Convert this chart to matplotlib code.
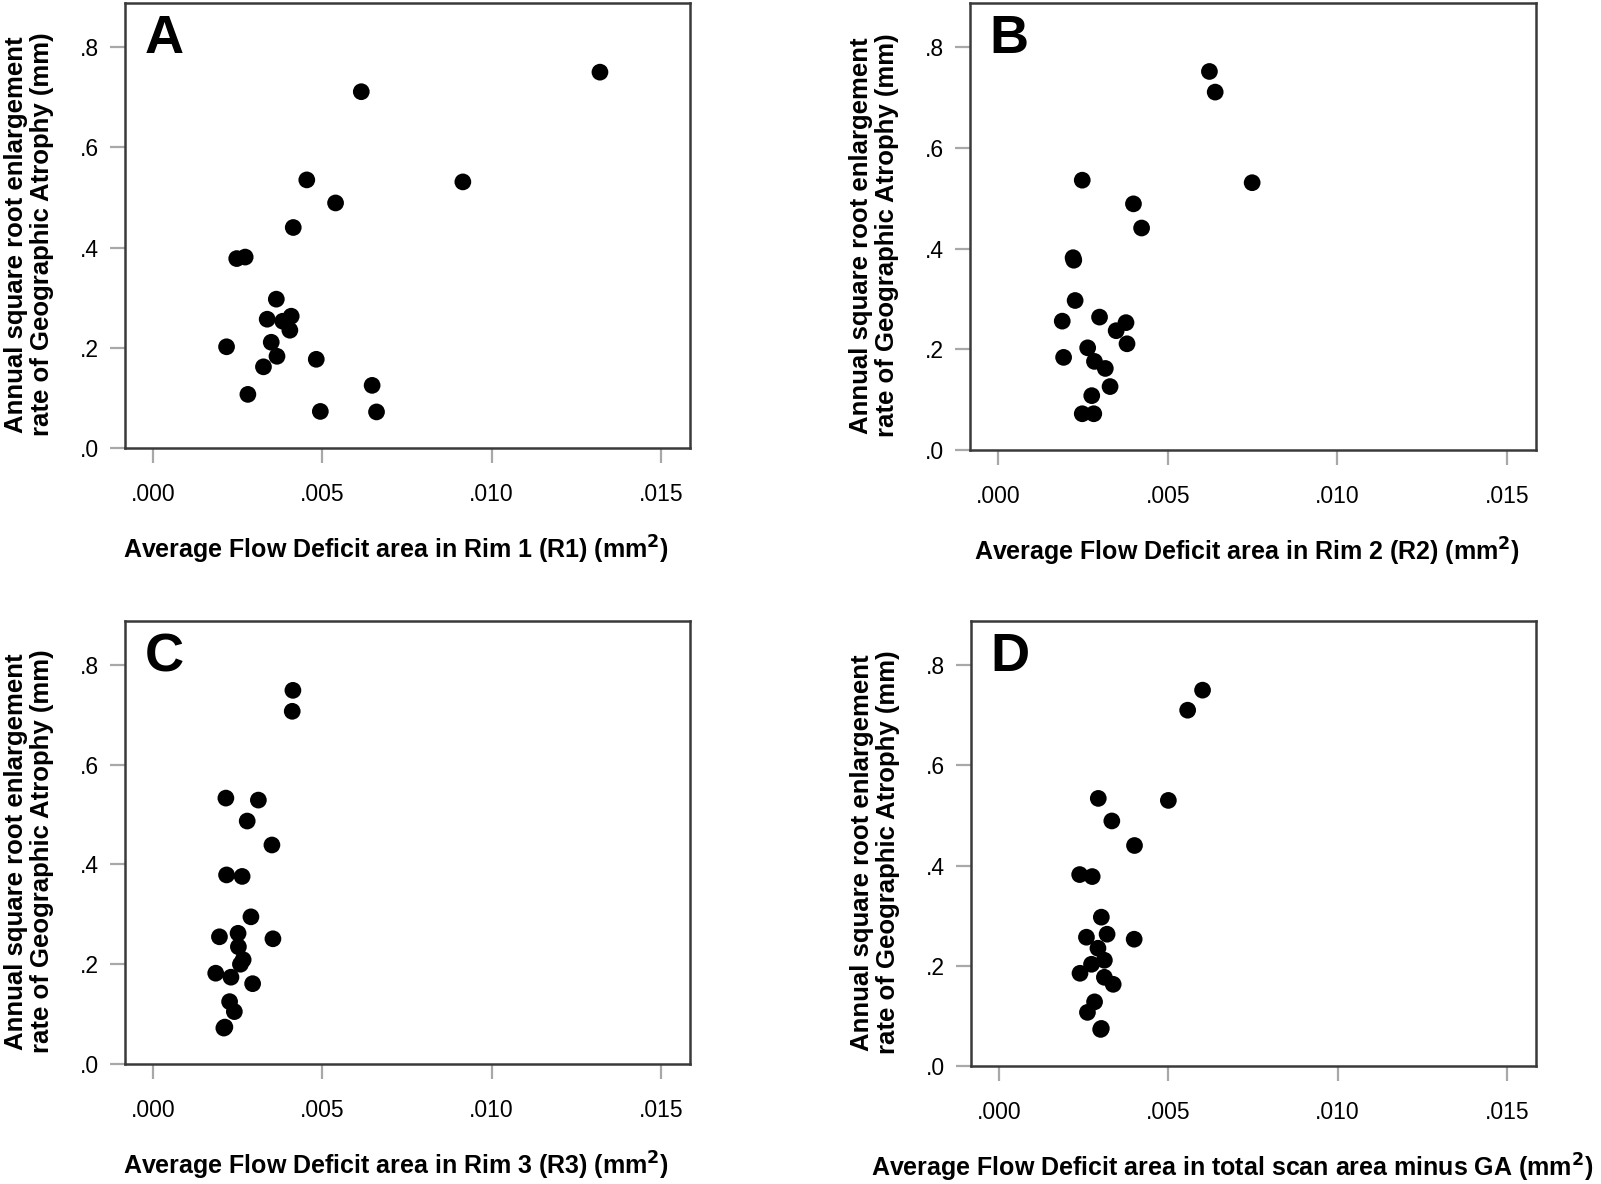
import matplotlib
matplotlib.use("Agg")
import matplotlib.pyplot as plt
from matplotlib.ticker import FuncFormatter

plt.rcParams['font.family'] = ['Liberation Sans', 'DejaVu Sans']

# panel A - rim 1
a_x = [0.0132, 0.00615, 0.00915, 0.00454, 0.00539, 0.00414, 0.00247, 0.00272,
       0.00364, 0.00337, 0.00383, 0.00408, 0.00404, 0.00349, 0.00217, 0.00366,
       0.00326, 0.00482, 0.00647, 0.00280, 0.00494, 0.00660]
a_y = [0.750, 0.711, 0.531, 0.535, 0.489, 0.440, 0.378, 0.381, 0.297, 0.257,
       0.253, 0.263, 0.235, 0.211, 0.202, 0.183, 0.162, 0.177, 0.125, 0.107,
       0.073, 0.072]

# panel B - rim 2
b_x = [0.00623, 0.00640, 0.00749, 0.00248, 0.00399, 0.00423, 0.00221, 0.00223,
       0.00227, 0.00189, 0.00299, 0.00377, 0.00348, 0.00380, 0.00264, 0.00193,
       0.00284, 0.00316, 0.00330, 0.00276, 0.00248, 0.00282]
b_y = [0.752, 0.711, 0.531, 0.536, 0.489, 0.441, 0.382, 0.377, 0.297, 0.256,
       0.264, 0.253, 0.237, 0.211, 0.203, 0.184, 0.176, 0.162, 0.126, 0.108,
       0.072, 0.072]

# panel C - rim 3
c_x = [0.00413, 0.00411, 0.00215, 0.00311, 0.00278, 0.00351, 0.00217, 0.00263,
       0.00289, 0.00196, 0.00251, 0.00354, 0.00252, 0.00266, 0.00258, 0.00185,
       0.00230, 0.00294, 0.00226, 0.00240, 0.00209, 0.00212]
c_y = [0.749, 0.707, 0.533, 0.529, 0.487, 0.439, 0.379, 0.376, 0.295, 0.255,
       0.262, 0.251, 0.235, 0.209, 0.200, 0.182, 0.174, 0.161, 0.125, 0.105,
       0.072, 0.074]

# panel D - total scan area minus GA
d_x = [0.00601, 0.00557, 0.00500, 0.00293, 0.00333, 0.00400, 0.00238, 0.00275,
       0.00302, 0.00258, 0.00319, 0.00399, 0.00292, 0.00311, 0.00273, 0.00239,
       0.00311, 0.00337, 0.00282, 0.00261, 0.00300, 0.00302]
d_y = [0.750, 0.710, 0.530, 0.534, 0.489, 0.440, 0.382, 0.378, 0.297, 0.257,
       0.263, 0.253, 0.235, 0.211, 0.203, 0.185, 0.177, 0.163, 0.128, 0.107,
       0.073, 0.075]

letters = ['A', 'B', 'C', 'D']
xlabels = ['Average Flow Deficit area in Rim 1 (R1) (mm$^\\mathbf{2}$)',
           'Average Flow Deficit area in Rim 2 (R2) (mm$^\\mathbf{2}$)',
           'Average Flow Deficit area in Rim 3 (R3) (mm$^\\mathbf{2}$)',
           'Average Flow Deficit area in total scan area minus GA (mm$^\\mathbf{2}$)']
ylabel = 'Annual square root enlargement\nrate of Geographic Atrophy (mm)'
x_ticks = [0.0, 0.005, 0.010, 0.015]
y_ticks = [0.0, 0.2, 0.4, 0.6, 0.8]

xs = [a_x, b_x, c_x, d_x]
ys = [a_y, b_y, c_y, d_y]

W, H = 1601, 1184
fig = plt.figure(figsize=(W / 100, H / 100), dpi=100)

# axes boxes in pixels: left, top, right, bottom
boxes = [(125, 3, 690, 448), (970, 3, 1536, 450),
         (125, 621, 690, 1064), (971, 621, 1536, 1066)]
xlab_x = [0.48, 0.489, 0.48, 0.462]

for i in range(4):
    l, t, r, b = boxes[i]
    ax = fig.add_axes([l / W, 1 - b / H, (r - l) / W, (b - t) / H])
    ax.scatter(xs[i], ys[i], s=145, color='black', edgecolors='none', zorder=3)
    ax.set_xlim(-0.00083, 0.01586)
    ax.set_ylim(0, 0.888)
    ax.set_xticks(x_ticks)
    ax.set_yticks(y_ticks)
    ax.xaxis.set_major_formatter(FuncFormatter(lambda v, p: ('%.3f' % v)[1:]))
    ax.yaxis.set_major_formatter(FuncFormatter(lambda v, p: ('%.1f' % v)[1:]))
    ax.tick_params(length=11, width=1.6, color='#a8a8a8', labelsize=16.5, pad=8)
    ax.tick_params(axis='x', pad=14)
    for sp in ax.spines.values():
        sp.set_color('#3a3a3a')
        sp.set_linewidth(1.8)
    ax.set_xlabel(xlabels[i], fontsize=18, fontweight='bold', labelpad=20)
    ax.xaxis.label.set_x(xlab_x[i])
    ax.text(-0.17, 0.48, ylabel, transform=ax.transAxes, rotation=90,
            ha='center', va='center', fontsize=18.5, fontweight='bold',
            linespacing=1.1)
    ax.text(0.035, 0.975, letters[i], transform=ax.transAxes, ha='left',
            va='top', fontsize=39, fontweight='bold')

fig.savefig('out.png', dpi=100)
